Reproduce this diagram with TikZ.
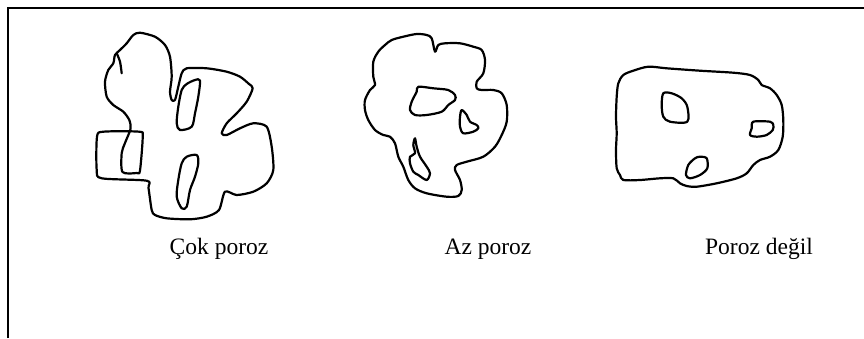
\documentclass[tikz,border=0pt]{standalone}
\usepackage{fontspec}
\setmainfont{Liberation Serif}
\begin{document}
\begin{tikzpicture}[x=1pt,y=-1pt,
  frame/.style={line width=1.7pt},
  grain/.style={line width=2.2pt, line join=round, line cap=round},
  label/.style={font=\fontsize{23.5}{28}\selectfont, anchor=base}]
\useasboundingbox (0,0) rectangle (864,338);
% open frame: top and left edges only
\draw[frame] (8,338) -- (8,8) -- (864,8);

% very porous grain
\draw[grain] plot[smooth cycle, tension=0.45] coordinates {
  (171.7,100) (170,91.7) (171.7,76.7) (170,56.7) (165,45) (155,36.7)
  (140,32.7) (133.3,35) (126.7,43.3) (120,50) (115,55) (113.3,63.3)
  (108.3,70) (105,81.7) (106.7,96.7) (113.3,105) (123.3,111.7)
  (129.3,120) (130.5,129) (125,143) (121.7,153) (122.5,172)
  (136.7,173) (140,170.5) (142.7,136.7) (139.3,131.7) (103.3,131.7)
  (97,136.7) (96.7,170) (101.7,178.3) (146.7,180.7) (148.5,188)
  (151.7,210) (155,215) (166.7,218.3) (190,219.3) (206.7,216.7)
  (219,210) (225,191.7) (236.7,195) (253.3,191.7) (266.7,183.3)
  (273.3,170) (271.7,146.7) (266.7,126.7) (253.3,123.3) (240,128.3)
  (226.7,135) (221.7,133.3) (226.7,123.3) (236.7,113.3) (246.7,101.7)
  (252.7,88.3) (249,84) (240,76.7) (226.7,71.7) (206.7,68.3)
  (186.7,68.3) (181.7,73.3) (178.3,86.7) (175,100)};
\draw[grain] plot[smooth, tension=0.5] coordinates {(116.7,53.3) (120,61.7) (121.7,73.3)};
\draw[grain] plot[smooth cycle, tension=0.5] coordinates {
  (195,80) (200,80.5) (198.3,96.7) (195,113.3) (191.7,126.7) (180,130)
  (176.7,123.3) (178.3,106.7) (181.7,90) (186.7,84)};
\draw[grain] plot[smooth cycle, tension=0.5] coordinates {
  (186.7,156.7) (196.7,155) (198.3,163.3) (195,176.7) (190,190)
  (186.7,206.7) (181.7,208.3) (176.7,196.7) (178.3,180) (181.7,163.3)};

% slightly porous grain
\draw[grain] plot[smooth cycle, tension=0.5] coordinates {
  (435,51.7) (431.7,38.3) (426.7,35) (416.7,34) (403.3,36.7) (391.7,40)
  (385,45) (378.3,51.7) (373.3,61.7) (373.3,76.7) (375,85) (370,90)
  (365,100) (365,110) (368.3,120) (375,130) (383.3,135) (390,136.7)
  (395,143.3) (398.3,156.7) (403.3,166.7) (408.3,180) (415,188.3)
  (426.7,193.3) (446.7,196.7) (458.3,196) (461.7,190) (460,180)
  (455,170) (456.7,165) (466.7,161.7) (483.3,156.7) (495,146.7)
  (501.7,135) (506.7,121.7) (506.7,105) (501.7,93.3) (493.3,90)
  (481.7,90) (476.7,88.3) (476.7,81.7) (483.3,73.3) (485,60)
  (481.7,50) (473.3,46.7) (460,43.3) (445,43.3) (438.3,45)};
\draw[grain] plot[smooth cycle, tension=0.5] coordinates {
  (418.3,86.7) (433.3,88.3) (448.3,90) (455,95) (455,100) (448.3,105)
  (441.7,111.7) (426.7,115) (415,115) (410,110) (411.7,101.7) (416.7,91.7)};
\draw[grain] plot[smooth cycle, tension=0.5] coordinates {
  (461.7,110) (466.7,115) (470,121.7) (476.7,125) (478.3,128.3)
  (473.3,131.7) (463.3,133.3) (460,126.7) (460,116.7)};
\draw[grain] plot[smooth cycle, tension=0.5] coordinates {
  (415,138.3) (416.7,146.7) (420,156.7) (426.7,166.7) (430,173.3)
  (426.7,180) (418.3,175) (413.3,171.7) (410,163.3) (410,156.7)
  (415,153.3) (413.3,145)};

% non-porous grain
\draw[grain] plot[smooth cycle, tension=0.5] coordinates {
  (648.3,66.7) (666.7,68.3) (700,70.7) (733.3,72.7) (750,75) (758.3,80)
  (761.7,85) (770,88.3) (776.7,95) (781.7,105) (783.3,120) (782.7,136.7)
  (778.3,150) (770,156.7) (760,160) (753.3,165) (746.7,173.3)
  (736.7,178.3) (716.7,183.3) (696.7,186.7) (686.7,186) (680,183.3)
  (673.3,178.3) (660,178.3) (640,180) (623.3,180) (620,175)
  (616.7,168.3) (616,150) (616.7,133.3) (616,116.7) (616.7,96.7)
  (618.3,83.3) (623.3,75) (633.3,70.7)};
\draw[grain] plot[smooth cycle, tension=0.5] coordinates {
  (663.3,93.3) (671.7,93.3) (681.7,98.3) (687.3,106.7) (687.3,121.7)
  (670,121.7) (663.3,116.7) (661.7,105)};
\draw[grain] plot[smooth cycle, tension=0.5] coordinates {
  (753.3,121.7) (770,121.7) (773.3,125) (772.7,130) (766.7,135)
  (756.7,136.7) (750,135) (751.7,128.3)};
\draw[grain] plot[smooth cycle, tension=0.5] coordinates {
  (700,156.7) (706.7,158.3) (707.3,168.3) (700,175) (690,178.3)
  (686,175) (688.3,165) (695,158.3)};

% captions
\node[label] (cok) at (219,254) {Çok poroz};
\node[label] (az) at (488,254) {Az poroz};
\node[label] (degil) at (759,254) {Poroz değil};
\end{tikzpicture}
\end{document}
